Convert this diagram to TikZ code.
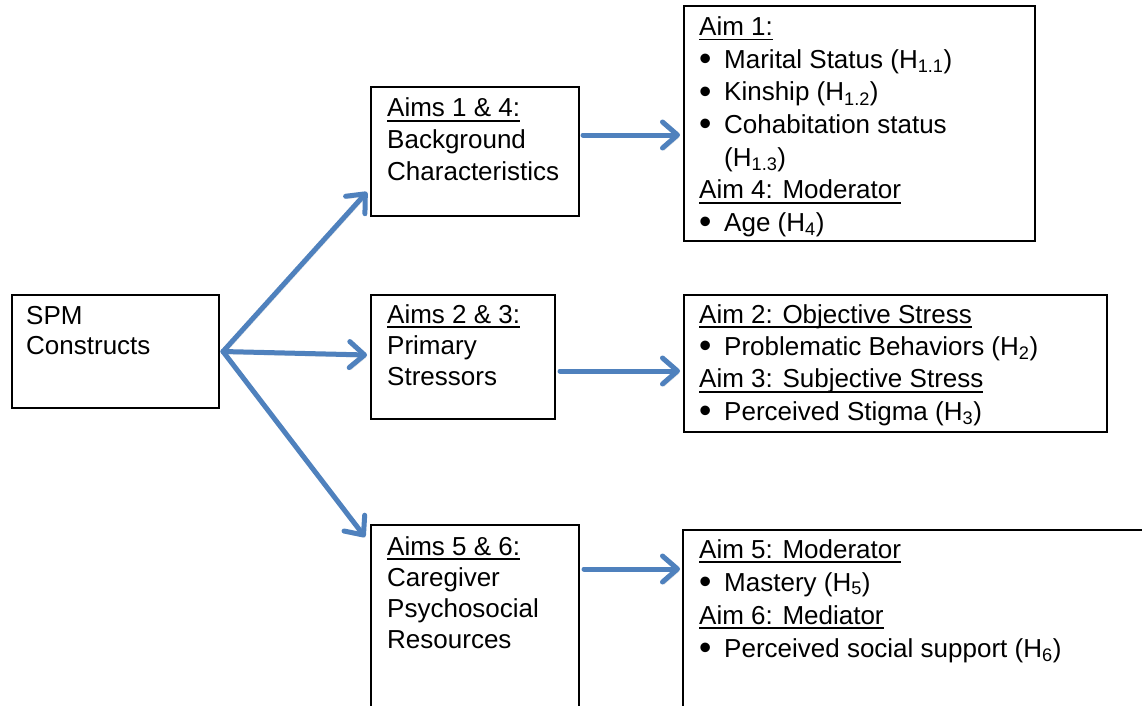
\documentclass[tikz,border=0pt]{standalone}
\usepackage{fontspec}
\setmainfont{Liberation Sans}
\usetikzlibrary{arrows.meta,calc}
\definecolor{arrowblue}{RGB}{79,129,189}
% underlined heading with a firm rule just below the baseline
\newcommand\ulin[1]{\sbox0{#1}\rlap{\rule[-4.8pt]{\wd0}{1.6pt}}\usebox0}
% bulleted entry with a full round bullet
\newcommand\itm[1]{\makebox[25pt][l]{\raisebox{-2.2pt}[0pt][0pt]{\scalebox{1.35}{\textbullet}}}#1}
% hypothesis label
\newcommand\hyp[1]{(H\textsubscript{#1})}

\begin{document}
\begin{tikzpicture}[x=1pt,y=-1pt,
  box/.style={draw=black, line width=1.1pt, inner sep=0pt, outer sep=0pt, anchor=north west},
  txt/.style={anchor=base west, inner sep=0pt, font=\fontsize{26}{#1}\selectfont},
  flow/.style={draw=arrowblue, line width=5pt, line cap=round,
    -{Straight Barb[length=15pt,width=26pt,round]},
    preaction={draw=black, opacity=0.12, transform canvas={shift={(1.5pt,-2.5pt)}}}}]
\useasboundingbox (0,0) rectangle (1142,706);
\clip (0,0) rectangle (1142,706);
\fill[white] (0,0) rectangle (1142,706);

% boxes
\node[box, minimum width=207pt, minimum height=113pt] (spm) at (12,295) {};
\node[box, minimum width=208pt, minimum height=129pt] (b1) at (371,87) {};
\node[box, minimum width=184pt, minimum height=124pt] (b2) at (371,295) {};
\node[box, minimum width=208pt, minimum height=260pt] (b3) at (371,525) {};
\node[box, minimum width=351pt, minimum height=235pt] (r1) at (684,6) {};
\node[box, minimum width=423pt, minimum height=137pt] (r2) at (684,295) {};
\node[box, minimum width=520pt, minimum height=260pt] (r3) at (683,530) {};

% texts
\node[txt=30pt] (tspm) at (26,324) {\begin{tabular}[t]{@{}l@{}}SPM\\Constructs\end{tabular}};
\node[txt=31.5pt] (tb1) at (387,117) {\begin{tabular}[t]{@{}l@{}}\ulin{Aims 1 \& 4:}\\Background\\Characteristics\end{tabular}};
\node[txt=31pt] (tb2) at (387,323) {\begin{tabular}[t]{@{}l@{}}\ulin{Aims 2 \& 3:}\\Primary\\Stressors\end{tabular}};
\node[txt=31pt] (tb3) at (387,555) {\begin{tabular}[t]{@{}l@{}}\ulin{Aims 5 \& 6:}\\Caregiver\\Psychosocial\\Resources\end{tabular}};
\node[txt=32.7pt] (tr1) at (699,35.5) {\begin{tabular}[t]{@{}l@{}}\ulin{Aim 1:}\\
  \itm{Marital Status \hyp{1.1}}\\
  \itm{Kinship \hyp{1.2}}\\
  \itm{Cohabitation status}\\
  \hspace{25pt}\hyp{1.3}\\
  \ulin{Aim 4: Moderator}\\
  \itm{Age \hyp{4}}\end{tabular}};
\node[txt=32.4pt] (tr2) at (699,323) {\begin{tabular}[t]{@{}l@{}}\ulin{Aim 2: Objective Stress}\\
  \itm{Problematic Behaviors \hyp{2}}\\
  \ulin{Aim 3: Subjective Stress}\\
  \itm{Perceived Stigma \hyp{3}}\end{tabular}};
\node[txt=33pt] (tr3) at (699,558) {\begin{tabular}[t]{@{}l@{}}\ulin{Aim 5: Moderator}\\
  \itm{Mastery \hyp{5}}\\
  \ulin{Aim 6: Mediator}\\
  \itm{Perceived social support \hyp{6}}\end{tabular}};

% connectors
\coordinate (fork) at ([xshift=4pt]spm.east);
\draw[flow] (fork) -- ([xshift=-4pt,yshift=24pt]b1.south west);
\draw[flow] (fork) -- ([xshift=-4pt,yshift=2pt]b2.west);
\draw[flow] (fork) -- ([xshift=-6pt,yshift=-12pt]b3.north west);
\coordinate (h1) at ([xshift=4pt,yshift=16.5pt]b1.east);
\coordinate (h2) at ([xshift=5pt,yshift=-14pt]b2.east);
\coordinate (h3) at ([xshift=5pt,yshift=-44pt]b3.north east);
\draw[flow] (h1) -- ($(h1 -| r1.west)+(-4,0)$);
\draw[flow] (h2) -- ($(h2 -| r2.west)+(-4,0)$);
\draw[flow] (h3) -- ($(h3 -| r3.west)+(-3,0)$);
\end{tikzpicture}
\end{document}
